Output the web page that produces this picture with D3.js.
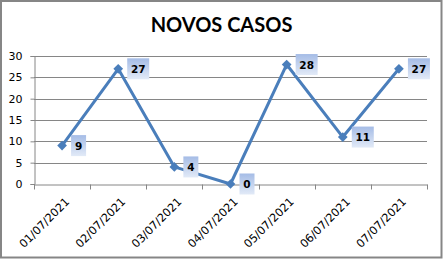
<!DOCTYPE html>
<html>
<head>
<meta charset="utf-8">
<script src="https://cdn.jsdelivr.net/npm/d3@7"></script>
<style>
  body { margin: 0; background: #fff; }
  svg { display: block; }
</style>
</head>
<body>
<div id="chart-area"></div>
<script>

// Data
let dates = ["01/07/2021", "02/07/2021", "03/07/2021", "04/07/2021", "05/07/2021", "06/07/2021", "07/07/2021"];
let casos = [9, 27, 4, 0, 28, 11, 27];
let yTicks = [0, 5, 10, 15, 20, 25, 30];

let W = 443, H = 259;
let margin = {top: 56, right: 16, bottom: 75, left: 34};
let width = 427 - margin.left,
    height = 184 - margin.top;

let svg = d3.select("#chart-area").append("svg")
    .attr("width", W)
    .attr("height", H);

// outer border
svg.append("rect")
    .attr("x", 1).attr("y", 1)
    .attr("width", W - 2.5).attr("height", H - 2.5)
    .attr("fill", "#fff")
    .attr("stroke", "#868686")
    .attr("stroke-width", 2);

// gradient for data labels
let defs = svg.append("defs");
let grad = defs.append("linearGradient")
    .attr("id", "lblGrad")
    .attr("x1", 0).attr("y1", 0).attr("x2", 0).attr("y2", 1);
grad.append("stop").attr("offset", "0%").attr("stop-color", "#a5bce6");
grad.append("stop").attr("offset", "100%").attr("stop-color", "#e2eaf7");

// title
svg.append("text")
    .attr("x", 221.5).attr("y", 32)
    .attr("text-anchor", "middle")
    .style("font-family", "Lato, sans-serif")
    .style("font-weight", "700")
    .style("font-size", "20px")
    .attr("fill", "#000")
    .text("NOVOS CASOS");

let g = svg.append("g")
    .attr("transform", "translate(" + margin.left + "," + margin.top + ")");

// Scales
let x = d3.scaleBand()
    .domain(dates)
    .range([0, width]);

let y = d3.scaleLinear()
    .domain([0, 30])
    .range([height, 0]);

// gridlines
g.append("g").selectAll("line")
    .data(yTicks.filter(d => d > 0))
    .enter().append("line")
    .attr("x1", 0).attr("x2", width)
    .attr("y1", d => Math.round(y(d)) + 0.5)
    .attr("y2", d => Math.round(y(d)) + 0.5)
    .attr("stroke", "#868686")
    .attr("stroke-width", 1);

// Axes
let yAxis = d3.axisLeft(y)
    .tickValues(yTicks)
    .tickSize(4)
    .tickPadding(8);

let yGroup = g.append("g")
    .attr("class", "axis y-axis")
    .attr("transform", "translate(0.5,0)")
    .call(yAxis);

let xAxis = d3.axisBottom(x)
    .tickSize(0)
    .tickFormat("");

let xGroup = g.append("g")
    .attr("class", "axis x-axis")
    .attr("transform", "translate(0," + (height + 0.5) + ")")
    .call(xAxis);

// x tick marks at band edges
let edges = dates.map(d => x(d)).concat([width]);
xGroup.selectAll(".edge")
    .data(edges)
    .enter().append("line")
    .attr("class", "edge")
    .attr("x1", d => Math.round(d) + 0.5).attr("x2", d => Math.round(d) + 0.5)
    .attr("y1", 0).attr("y2", 5)
    .attr("stroke", "#868686");

// x labels rotated
xGroup.selectAll(".lbl")
    .data(dates)
    .enter().append("text")
    .attr("class", "lbl")
    .attr("text-anchor", "end")
    .attr("transform", d => "translate(" + (x(d) + x.bandwidth() / 2 + 8) + ",18) rotate(-45)")
    .style("font-family", "'DejaVu Sans', Verdana, sans-serif")
    .style("font-size", "11.3px")
    .attr("fill", "#000")
    .text(d => d);

svg.selectAll(".axis path, .axis line").attr("stroke", "#868686");
svg.selectAll(".axis path").attr("stroke-width", 1);
yGroup.selectAll("text")
    .style("font-family", "'DejaVu Sans', Verdana, sans-serif")
    .style("font-size", "11px")
    .attr("fill", "#000");

// line
let line = d3.line()
    .x((d, i) => x(dates[i]) + x.bandwidth() / 2)
    .y(d => y(d));

g.append("path")
    .datum(casos)
    .attr("d", line)
    .attr("fill", "none")
    .attr("stroke", "#4a7ebb")
    .attr("stroke-width", 3)
    .attr("stroke-linejoin", "round");

// markers
g.selectAll(".marker")
    .data(casos)
    .enter().append("path")
    .attr("class", "marker")
    .attr("d", d3.symbol().type(d3.symbolDiamond2).size(60))
    .attr("transform", (d, i) => "translate(" + (x(dates[i]) + x.bandwidth() / 2) + "," + y(d) + ")")
    .attr("fill", "#4a7ebb");

// data labels
let lbl = g.selectAll(".dlabel")
    .data(casos)
    .enter().append("g")
    .attr("class", "dlabel")
    .attr("transform", (d, i) => "translate(" + (x(dates[i]) + x.bandwidth() / 2 + 9) + "," + y(d) + ")");

lbl.append("rect")
    .attr("x", 0)
    .attr("y", -10.5)
    .attr("width", d => String(d).length > 1 ? 22 : 15)
    .attr("height", 21)
    .attr("fill", "url(#lblGrad)");

lbl.append("text")
    .attr("x", d => (String(d).length > 1 ? 22 : 15) / 2)
    .attr("y", 4)
    .attr("text-anchor", "middle")
    .style("font-family", "'DejaVu Sans', Verdana, sans-serif")
    .style("font-weight", "bold")
    .style("font-size", "10.5px")
    .attr("fill", "#000")
    .text(d => d);

</script>
</body>
</html>
